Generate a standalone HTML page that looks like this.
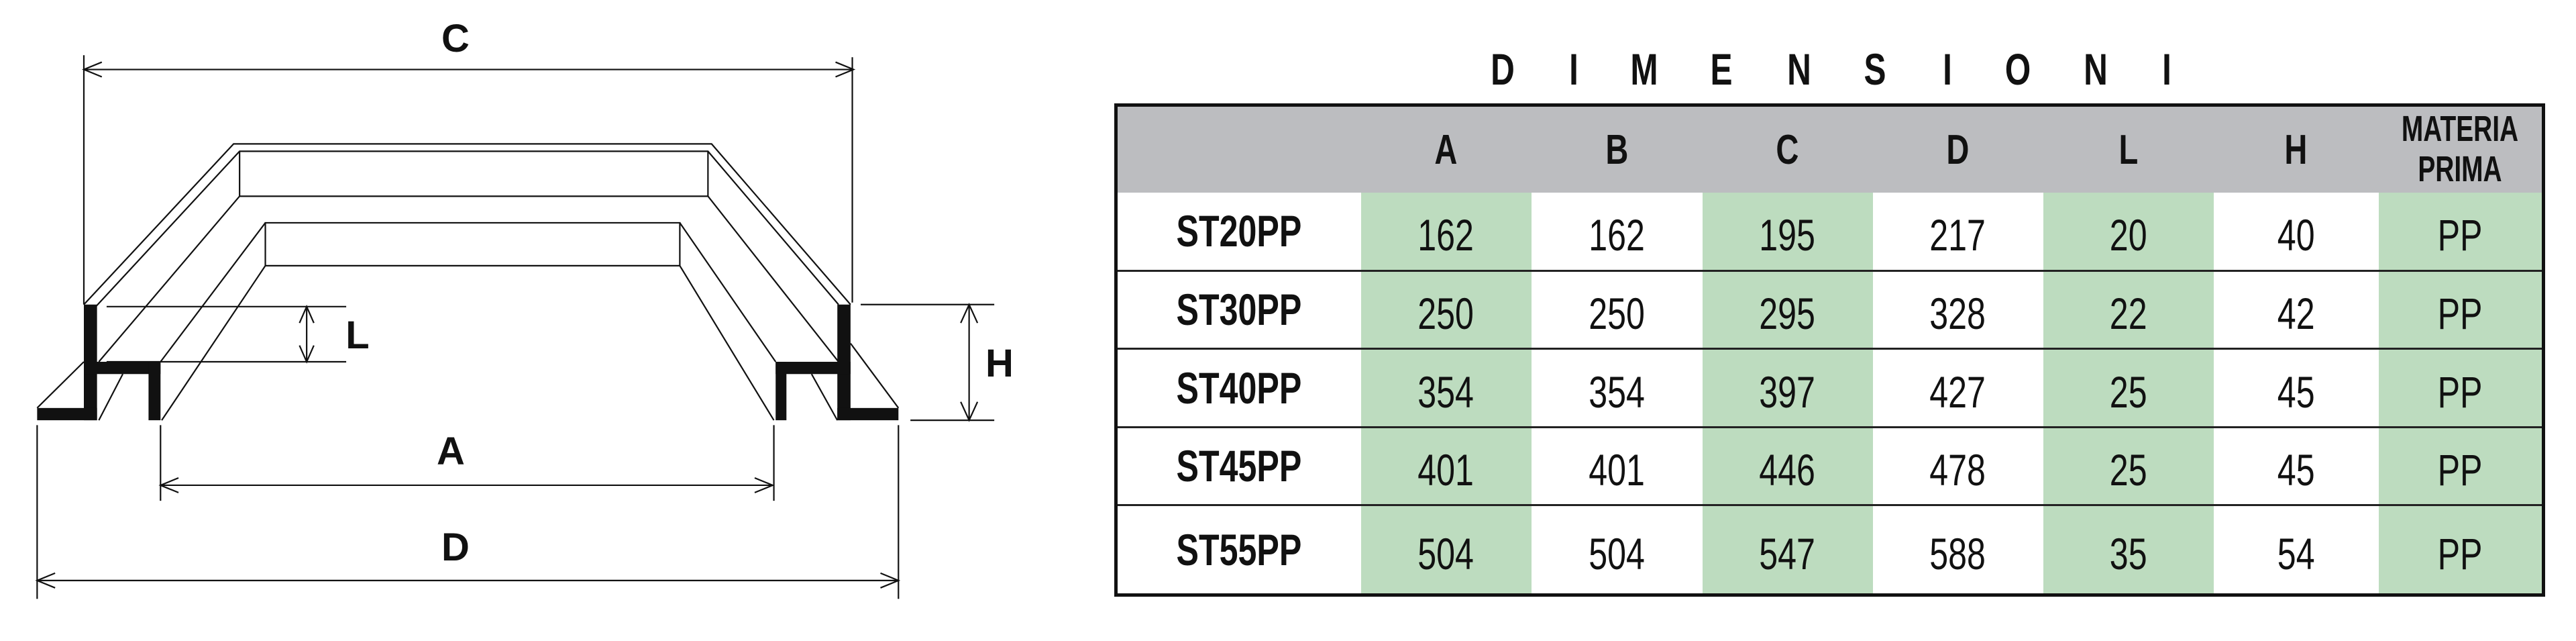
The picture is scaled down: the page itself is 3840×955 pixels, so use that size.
<!DOCTYPE html>
<html><head><meta charset="utf-8"><style>
body{margin:0;width:3840px;height:955px;background:#fff;position:relative;overflow:hidden;font-family:"Liberation Sans",Arial,sans-serif;}
.lbl{position:absolute;font-weight:bold;font-size:58px;line-height:1;transform:translate(-50%,-50%);color:#111}
.t{position:absolute;font-weight:bold;font-size:66px;line-height:1;transform:translate(-50%,-50%) scaleX(0.75);color:#111}
table{position:absolute;left:1661px;top:154px;width:2128px;border-collapse:collapse;table-layout:fixed;border:5px solid #111;}
td{padding:0;text-align:center;vertical-align:middle;color:#111}
td span{display:inline-block;transform:scaleX(0.76)}
tr.h td{background:#bcbdc0;height:128px;font-weight:bold;font-size:62px}
tr.d td{font-size:66px;border-top:3px solid #222;padding-top:12px}
tr.d td:first-child{font-weight:bold;padding-top:0}
tr.d td.g{background:#bddcbf}
tr.first td{border-top:none}
.mp{font-size:54px;line-height:60px;display:inline-block;transform:scaleX(0.72)!important}
</style></head><body>
<svg style="position:absolute;left:0;top:0" width="1550" height="955" viewBox="0 0 1736 1568" preserveAspectRatio="none">
<g fill="none" stroke="#111" stroke-width="2.2" vector-effect="non-scaling-stroke">
<path vector-effect="non-scaling-stroke" d="M140 135V745M1423 140V740M140 170H1425M268 1040V1225M1292 1040V1225M268 1187H1290M62 1040V1465M1500 1040V1465M62 1420H1500"/>
<path vector-effect="non-scaling-stroke" d="M140 745L390 352H1188L1420 745M160 750L400 370H1182L1400 745M400 370V480H1182V370M400 480L165 885M1182 480L1400 885"/>
<path vector-effect="non-scaling-stroke" d="M443 545H1135V650H443ZM443 545L268 885M443 650L270 1028M1135 545L1295 885M1135 650L1292 1028M205 915L165 1028M62 998L140 885M1420 840L1500 998M1355 915L1398 1028"/>
<path vector-effect="non-scaling-stroke" d="M178 750H578M178 885H578M512 750V885M1437 745H1660M1520 1028H1660M1618 745V1028"/>
<path vector-effect="non-scaling-stroke" d="M170 152L140 170L170 188M1395 152L1425 170L1395 188M298 1169L268 1187L298 1205M1260 1169L1290 1187L1260 1205M92 1402L62 1420L92 1438M1470 1402L1500 1420L1470 1438M500 790L512 750L524 790M500 845L512 885L524 845M1604 790L1618 745L1632 790M1604 983L1618 1028L1632 983"/>
</g>
<g fill="#111">
<rect x="140" y="745" width="22" height="283"/><rect x="140" y="885" width="128" height="30"/><rect x="248" y="885" width="20" height="143"/><rect x="62" y="998" width="100" height="30"/>
<rect x="1398" y="745" width="22" height="283"/><rect x="1295" y="885" width="125" height="30"/><rect x="1295" y="885" width="18" height="143"/><rect x="1398" y="998" width="102" height="30"/>
</g>
</svg>
<div class="lbl" style="left:679px;top:58px">C</div>
<div class="lbl" style="left:533px;top:500px">L</div>
<div class="lbl" style="left:1490px;top:542px">H</div>
<div class="lbl" style="left:672px;top:673px">A</div>
<div class="lbl" style="left:679px;top:816px">D</div>
<div class="t" style="left:2240px;top:103px">D</div><div class="t" style="left:2346px;top:103px">I</div><div class="t" style="left:2451px;top:103px">M</div><div class="t" style="left:2566px;top:103px">E</div><div class="t" style="left:2682px;top:103px">N</div><div class="t" style="left:2795px;top:103px">S</div><div class="t" style="left:2903px;top:103px">I</div><div class="t" style="left:3008px;top:103px">O</div><div class="t" style="left:3124px;top:103px">N</div><div class="t" style="left:3230px;top:103px">I</div>
<table>
<colgroup><col style="width:365px"><col style="width:254px"><col style="width:255px"><col style="width:254px"><col style="width:254px"><col style="width:254px"><col style="width:246px"><col style="width:246px"></colgroup>
<tr class="h"><td></td><td><span>A</span></td><td><span>B</span></td><td><span>C</span></td><td><span>D</span></td><td><span>L</span></td><td><span>H</span></td><td><span class="mp">MATERIA<br>PRIMA</span></td></tr>
<tr class="d first" style="height:116px"><td><span>ST20PP</span></td><td class="g"><span>162</span></td><td><span>162</span></td><td class="g"><span>195</span></td><td><span>217</span></td><td class="g"><span>20</span></td><td><span>40</span></td><td class="g"><span>PP</span></td></tr>
<tr class="d" style="height:116px"><td><span>ST30PP</span></td><td class="g"><span>250</span></td><td><span>250</span></td><td class="g"><span>295</span></td><td><span>328</span></td><td class="g"><span>22</span></td><td><span>42</span></td><td class="g"><span>PP</span></td></tr>
<tr class="d" style="height:117px"><td><span>ST40PP</span></td><td class="g"><span>354</span></td><td><span>354</span></td><td class="g"><span>397</span></td><td><span>427</span></td><td class="g"><span>25</span></td><td><span>45</span></td><td class="g"><span>PP</span></td></tr>
<tr class="d" style="height:116px"><td><span>ST45PP</span></td><td class="g"><span>401</span></td><td><span>401</span></td><td class="g"><span>446</span></td><td><span>478</span></td><td class="g"><span>25</span></td><td><span>45</span></td><td class="g"><span>PP</span></td></tr>
<tr class="d" style="height:134px"><td><span>ST55PP</span></td><td class="g"><span>504</span></td><td><span>504</span></td><td class="g"><span>547</span></td><td><span>588</span></td><td class="g"><span>35</span></td><td><span>54</span></td><td class="g"><span>PP</span></td></tr>
</table>
</body></html>
